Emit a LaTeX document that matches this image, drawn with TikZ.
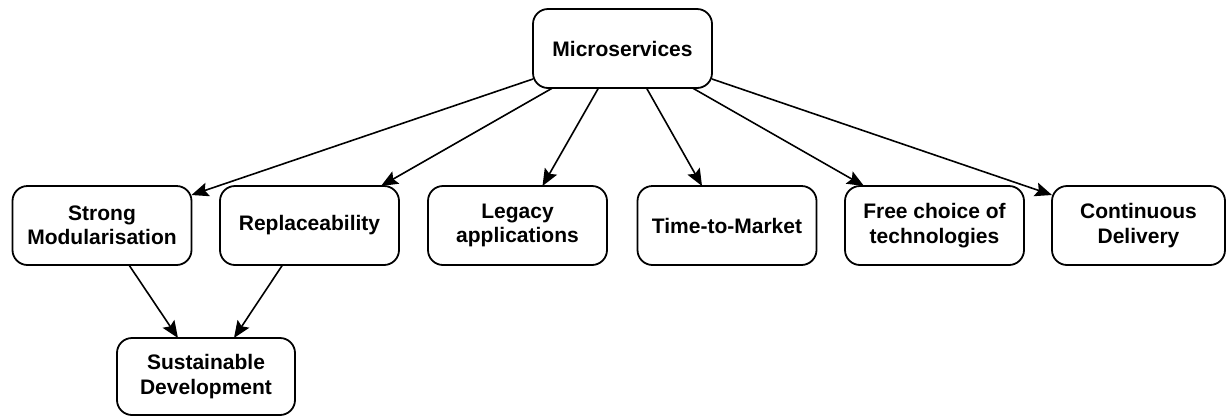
\documentclass[tikz,border=0pt]{standalone}
\usepackage{fontspec}
\setmainfont{Liberation Sans}
\usetikzlibrary{calc,arrows.meta}
\begin{document}
\begin{tikzpicture}[x=1pt,y=-1pt,
  box/.style={draw=black, line width=1.8pt, rounded corners=15pt, fill=white,
    minimum width=179pt, minimum height=79pt, inner sep=0pt, outer sep=0pt,
    align=center, font=\fontsize{21}{24.5}\selectfont\bfseries},
  link/.style={draw=black, line width=1.6pt,
    -{Stealth[length=17pt,width=14pt,inset=3pt]}}]
\useasboundingbox (0,0) rectangle (1227,416);
% top concept
\node[box] (ms) at (622.5,48.5) {Microservices};
% consequences
\node[box] (sm)  at (102,225.5)   {Strong\\Modularisation};
\node[box] (rep) at (309.5,225.5) {Replaceability};
\node[box] (leg) at (517.5,225.5) {Legacy\\applications};
\node[box] (ttm) at (727,225.5)   {Time-to-Market};
\node[box] (fc)  at (934.5,225.5) {Free choice of\\technologies};
\node[box, minimum width=173pt] (cd) at (1138.5,225.5) {Continuous\\Delivery};
\node[box, minimum width=178pt, minimum height=77pt] (sd) at (206,376.5) {Sustainable\\Development};
% connectors from the top concept
\draw[link] ($(ms.south west)+(0,-9)$) -- ($(sm.north east)+(0,9)$);
\draw[link] ($(ms.south)+(-70,0)$) -- ($(rep.north east)+(-18,0)$);
\draw[link] ($(ms.south)+(-24,0)$) -- ($(leg.north)+(25,0)$);
\draw[link] ($(ms.south)+(24,0)$)  -- ($(ttm.north)+(-25,0)$);
\draw[link] ($(ms.south)+(70,0)$)  -- ($(fc.north west)+(19,0)$);
\draw[link] ($(ms.south east)+(0,-9)$) -- ($(cd.north west)+(0,9)$);
% connectors into sustainable development
\draw[link] ($(sm.south)+(27,0)$)  -- ($(sd.north)+(-28,0)$);
\draw[link] ($(rep.south)+(-27,0)$) -- ($(sd.north)+(28,0)$);
\end{tikzpicture}
\end{document}
